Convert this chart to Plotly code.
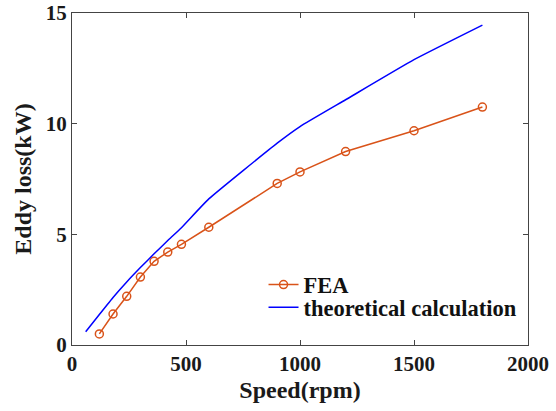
import plotly.graph_objects as go

fea_speed = [120, 180, 240, 300, 360, 420, 480, 600, 900, 1000, 1200, 1500, 1800]
fea_loss = [0.5, 1.40, 2.2, 3.07, 3.78, 4.2, 4.55, 5.32, 7.30, 7.82, 8.74, 9.68, 10.75]

theo_speed = [60, 120, 180, 240, 300, 360, 420, 480, 600, 900, 1000, 1200, 1500, 1800]
theo_loss = [0.6, 1.38, 2.15, 2.85, 3.5, 4.12, 4.72, 5.3, 6.6, 9.12, 9.87, 11.08, 12.89, 14.45]

x_ticks = [0, 500, 1000, 1500, 2000]
y_ticks = [0, 5, 10, 15]

FF = "Liberation Serif"

fig = go.Figure()
fig.add_trace(go.Scatter(
    x=fea_speed, y=fea_loss, mode="lines+markers", name="FEA", legend="legend",
    line=dict(color="#D95319", width=1.5),
    marker=dict(symbol="circle-open", size=8, color="#D95319", line=dict(width=1.5)),
))
fig.add_trace(go.Scatter(
    x=theo_speed, y=theo_loss, mode="lines", name="theoretical calculation", legend="legend2",
    line=dict(color="#0000FF", width=1.5, shape="spline", smoothing=0.4),
))

def axis(rng, tv, title, standoff, tsize):
    return dict(
        range=rng, tickvals=tv, ticktext=[str(v) for v in tv],
        showgrid=False, zeroline=False, showline=True, linecolor="#444444", linewidth=1,
        mirror="ticks", ticks="inside", ticklen=5, tickcolor="#444444", automargin=False,
        tickfont=dict(family=FF, size=21, color="#1a1a1a", weight="bold"),
        title=dict(text=title, font=dict(family=FF, size=tsize, color="#1a1a1a", weight="bold"), standoff=standoff),
    )

leg_common = dict(x=0.42, xanchor="left", yanchor="middle", bgcolor="rgba(0,0,0,0)",
                  font=dict(family=FF, size=22.5, color="#111111", weight="bold"))

fig.update_layout(
    width=556, height=411,
    margin=dict(l=72, r=28, t=13, b=66),
    paper_bgcolor="white", plot_bgcolor="white",
    font=dict(family=FF, color="#1a1a1a"),
    xaxis=axis([0, 2000], x_ticks, "Speed(rpm)", 5, 24),
    yaxis=axis([0, 15], y_ticks, "Eddy loss(kW)", 7, 24),
    legend=dict(y=0.181, **leg_common),
    legend2=dict(y=0.1125, **leg_common),
    showlegend=True,
)

fig.write_html("out.html")
